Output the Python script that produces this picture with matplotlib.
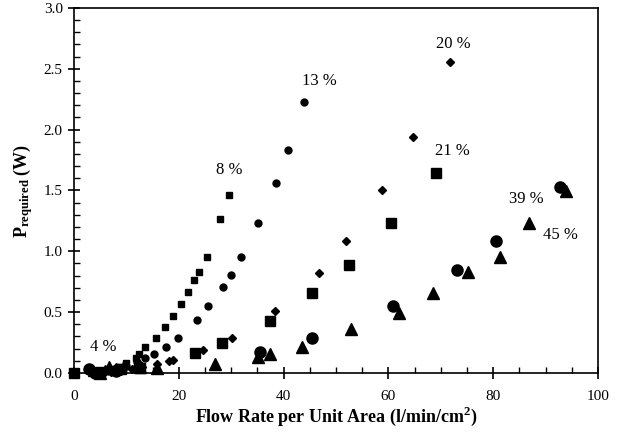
import numpy as np
import matplotlib.pyplot as plt
from matplotlib.ticker import MultipleLocator

plt.rcParams['font.family'] = 'Liberation Serif'
plt.rcParams['mathtext.fontset'] = 'custom'
plt.rcParams['mathtext.rm'] = 'Liberation Serif'
plt.rcParams['mathtext.bf'] = 'Liberation Serif:bold'

# 4 %  (small triangles)
x4 = [3.2, 4.0, 5.0, 6.0, 6.7, 8.0, 9.5]
y4 = [0.0, 0.01, 0.02, 0.04, 0.07, 0.06, 0.08]
# 8 %  (small squares)
x8 = [4.5, 5.5, 7.0, 8.5, 10.0, 11.8, 12.5, 13.6, 15.7, 17.4, 18.9, 20.5, 21.7, 23.0, 23.8, 25.3, 27.9, 29.6]
y8 = [0.005, 0.01, 0.03, 0.05, 0.08, 0.12, 0.16, 0.21, 0.288, 0.378, 0.468, 0.567, 0.663, 0.764, 0.832, 0.953, 1.265, 1.46]
# 13 % (small circles)
x13 = [4.0, 5.0, 6.5, 8.0, 10.0, 12.0, 13.5, 15.3, 17.5, 19.8, 23.4, 25.6, 28.4, 30.0, 31.9, 35.2, 38.5, 40.8, 43.9]
y13 = [0.0, 0.01, 0.02, 0.04, 0.06, 0.09, 0.12, 0.154, 0.216, 0.288, 0.433, 0.548, 0.709, 0.808, 0.953, 1.235, 1.559, 1.835, 2.23]
# 20 % (small diamonds)
x20 = [5.0, 7.0, 9.0, 11.0, 13.0, 15.9, 18.2, 19.0, 24.7, 30.2, 38.4, 46.8, 52.0, 58.8, 64.7, 71.8]
y20 = [0.0, 0.01, 0.02, 0.03, 0.05, 0.075, 0.095, 0.105, 0.185, 0.29, 0.51, 0.82, 1.085, 1.50, 1.94, 2.56]
# 21 % (large squares)
x21 = [0.0, 5.0, 9.0, 12.7, 23.2, 28.2, 37.5, 45.5, 52.5, 60.5, 69.0]
y21 = [0.0, 0.01, 0.03, 0.04, 0.162, 0.244, 0.427, 0.655, 0.887, 1.23, 1.64]
# 39 % (large circles)
x39 = [2.9, 4.0, 8.0, 12.5, 35.5, 45.4, 60.9, 73.1, 80.5, 92.7]
y39 = [0.03, 0.0, 0.02, 0.05, 0.175, 0.29, 0.55, 0.846, 1.085, 1.526]
# 45 % (large triangles)
x45 = [5.0, 12.6, 15.9, 26.9, 35.2, 37.5, 43.6, 52.9, 62.0, 68.6, 75.1, 81.3, 86.9, 93.9]
y45 = [0.0, 0.05, 0.04, 0.071, 0.129, 0.154, 0.216, 0.359, 0.49, 0.66, 0.827, 0.956, 1.23, 1.498]

labels = ['4 %', '8 %', '13 %', '20 %', '21 %', '39 %', '45 %']
label_x = [5.6, 29.6, 46.9, 72.3, 72.3, 86.3, 92.9]
label_y = [0.21, 1.67, 2.40, 2.70, 1.824, 1.434, 1.138]

fig = plt.figure(figsize=(6.21, 4.34), dpi=100)
ax = fig.add_axes([0.119, 0.1406, 0.844, 0.8410])

ax.plot(x4, y4, '^', color='k', ms=5, ls='none')
ax.plot(x8, y8, 's', color='k', ms=5, ls='none')
ax.plot(x13, y13, 'o', color='k', ms=5, ls='none')
ax.plot(x20, y20, 'D', color='k', ms=3.8, ls='none')
ax.plot(x21, y21, 's', color='k', ms=7.5, ls='none')
ax.plot(x39, y39, 'o', color='k', ms=8, ls='none')
ax.plot(x45, y45, '^', color='k', ms=8, ls='none')

for t, lx, ly in zip(labels, label_x, label_y):
    ax.text(lx, ly, t, fontsize=12, ha='center', va='center')

ax.set_xlim(0, 100)
ax.set_ylim(0, 3.0)
ax.xaxis.set_major_locator(MultipleLocator(20))
ax.xaxis.set_minor_locator(MultipleLocator(5))
ax.yaxis.set_major_locator(MultipleLocator(0.5))
ax.yaxis.set_minor_locator(MultipleLocator(0.1))
ax.yaxis.set_major_formatter(plt.FormatStrFormatter('%.1f'))
ax.tick_params(which='major', direction='inout', length=9, width=1.2, labelsize=11)
ax.tick_params(which='minor', direction='in', length=4.5, width=1)
ax.tick_params(axis='x', pad=8)
for s in ax.spines.values():
    s.set_linewidth(1.2)
ax.set_clip_on(False)
for line in ax.lines:
    line.set_clip_on(False)

ax.set_xlabel(r'Flow Rate per Unit Area (l/min/cm$^{\mathbf{2}}$)', fontsize=13, fontweight='bold', labelpad=1)
ax.set_ylabel(r'$\mathbf{P_{required}}$ (W)', fontsize=13, fontweight='bold', labelpad=6)

fig.savefig('out.png', dpi=100)
